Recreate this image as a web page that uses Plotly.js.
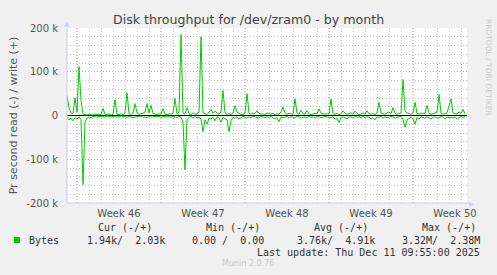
<!DOCTYPE html>
<html>
<head>
<meta charset="utf-8">
<script src="https://cdn.plot.ly/plotly-3.0.1.min.js"></script>
<style>
html,body{margin:0;padding:0;background:#f0f0f0;}
#chart{width:497px;height:275px;}
</style>
</head>
<body>
<div id="chart"></div>
<script>
// Sampling: one value every 4 hours, starting at this time
const startTime = '2025-11-09T04:00:00';
const stepHours = 4;

// write (+) in k bytes/s
const writeK = [
  46,18,6,4,40,8,112,35,3,2,
  1,3,2,1,4,2,3,2,16,3,
  2,4,1,3,36,3,2,4,2,6,
  52,4,3,5,27,6,3,4,5,8,
  27,6,23,5,3,2,4,3,16,3,
  2,4,3,5,39,4,8,185,6,3,
  18,4,2,6,3,4,8,180,6,4,
  2,8,14,5,10,6,3,8,57,6,
  3,4,2,6,23,8,4,2,3,5,
  50,5,3,6,4,11,5,3,4,2,
  6,4,3,5,2,4,3,8,19,6,
  3,5,4,3,38,5,3,12,4,3,
  11,4,2,3,5,4,15,5,4,3,
  4,3,38,4,3,5,2,4,11,5,
  3,4,6,3,10,5,2,4,6,3,
  11,4,3,5,2,6,30,5,4,3,
  6,8,4,18,5,3,4,6,82,10,
  6,4,3,6,30,5,3,6,4,5,
  23,5,3,4,6,8,48,5,3,4,
  6,21,38,6,4,3,8,5,14,4
];

// read (-) in k bytes/s, drawn below zero
const readK = [
  -4,-10,-6,-12,-5,-8,-3,-10,-158,-15,
  -6,-3,-5,-2,-3,-4,-2,-3,-2,-4,
  -1,-2,-3,-2,-3,-4,-2,-1,-3,-2,
  -4,-2,-3,-5,-4,-2,-3,-1,-4,-3,
  -5,-2,-4,-3,-2,-3,-2,-4,-3,-2,
  -1,-3,-4,-2,-3,-5,-2,-4,-15,-124,
  -10,-4,-2,-6,-3,-5,-4,-8,-37,-10,
  -20,-6,-8,-4,-12,-3,-5,-15,-4,-8,
  -10,-37,-12,-4,-6,-3,-8,-5,-2,-4,
  -6,-3,-5,-2,-3,-4,-6,-2,-3,-5,
  -3,-4,-2,-6,-8,-5,-14,-3,-5,-4,
  -2,-6,-3,-4,-5,-2,-3,-6,-4,-3,
  -5,-2,-4,-3,-6,-2,-3,-5,-4,-2,
  -3,-4,-5,-3,-8,-6,-16,-4,-3,-5,
  -8,-4,-3,-6,-2,-4,-3,-5,-2,-6,
  -3,-4,-8,-5,-10,-3,-4,-2,-6,-3,
  -5,-4,-2,-3,-6,-4,-3,-2,-8,-27,
  -10,-6,-4,-8,-20,-5,-8,-3,-4,-6,
  -3,-5,-8,-4,-3,-5,-6,-2,-4,-8,
  -3,-5,-4,-6,-3,-8,-5,-2,-4,-3
];

// week boundaries (Mondays) and week labels (placed mid-week)
const weekStarts = ['2025-11-10','2025-11-17','2025-11-24','2025-12-01','2025-12-08'];
const weekLabels = ['Week 46','Week 47','Week 48','Week 49','Week 50'];

const yTickVals = [-200,-100,0,100,200];
const yTickText = ['-200 k','-100 k','0','100 k','200 k'];

const legendHeaders = ['Cur (-/+)','Min (-/+)','Avg (-/+)','Max (-/+)'];
const legendValues = ['1.94k/  2.03k','0.00 /  0.00','3.76k/  4.91k','3.32M/  2.38M'];
const seriesName = 'Bytes';
const lastUpdate = 'Last update: Thu Dec 11 09:55:00 2025';

const DAY = 86400000;
const t0 = Date.parse(startTime + 'Z');
function iso(ms){ return new Date(ms).toISOString().slice(0,19); }
function timeAt(i){ return iso(t0 + i*stepHours*3600000); }
const xW = writeK.map((_,i)=>timeAt(i));
const xR = readK.map((_,i)=>timeAt(i));
const weekMid = weekStarts.map(d=>iso(Date.parse(d+'T00:00:00Z') + 3.5*DAY));

const green = '#00cc00';
const traces = [
  {x:xR, y:readK, type:'scatter', mode:'lines', line:{color:green, width:1}, hoverinfo:'skip'},
  {x:xW, y:writeK, type:'scatter', mode:'lines', line:{color:green, width:1}, hoverinfo:'skip'}
];

const mono = 'DejaVu Sans Mono, monospace';
const txtCol = '#333';
const headerX = [125,233,341,449];
const valueRight = [167,266,377,482];

function px(x){ return (x-67)/400; }
function py(y){ return (203-y)/175; }
const annotations = [];
annotations.push({text:'Disk throughput for /dev/zram0 - by month', xref:'paper', yref:'paper',
  x:px(248), y:py(19), xanchor:'center', yanchor:'middle', showarrow:false,
  font:{family:'DejaVu Sans', size:12.6, color:'#444'}});
legendHeaders.forEach((h,i)=>annotations.push({text:h, xref:'paper', yref:'paper',
  x:px(headerX[i]), y:py(227), xanchor:'center', yanchor:'middle', showarrow:false,
  font:{family:mono, size:10, color:txtCol}}));
annotations.push({text:seriesName, xref:'paper', yref:'paper', x:px(27), y:py(240),
  xanchor:'left', yanchor:'middle', showarrow:false, font:{family:mono, size:10, color:txtCol}});
legendValues.forEach((v,i)=>annotations.push({text:v.replace(/ /g,'&nbsp;'), xref:'paper', yref:'paper',
  x:px(valueRight[i]), y:py(240), xanchor:'right', yanchor:'middle', showarrow:false,
  font:{family:mono, size:10, color:txtCol}}));
annotations.push({text:lastUpdate.replace(/ /g,'&nbsp;'), xref:'paper', yref:'paper', x:px(482), y:py(252),
  xanchor:'right', yanchor:'middle', showarrow:false, font:{family:mono, size:10, color:txtCol}});
annotations.push({text:'Munin 2.0.76', xref:'paper', yref:'paper', x:px(248), y:py(263),
  xanchor:'center', yanchor:'middle', showarrow:false, font:{family:'DejaVu Sans', size:8, color:'#c8c8c8'}});
annotations.push({text:'RRDTOOL / TOBI OETIKER', xref:'paper', yref:'paper', x:px(489), y:py(67),
  xanchor:'center', yanchor:'middle', textangle:90, showarrow:false, font:{family:'DejaVu Sans', size:7.5, color:'#cccccc'}});
annotations.push({text:'▲', xref:'paper', yref:'paper', x:px(67), y:py(24), xanchor:'center', yanchor:'middle',
  showarrow:false, font:{family:'DejaVu Sans', size:7, color:'#c8d0f0'}});
annotations.push({text:'▶', xref:'paper', yref:'paper', x:px(471), y:py(203), xanchor:'center', yanchor:'middle',
  showarrow:false, font:{family:'DejaVu Sans', size:6, color:'#c8d0f0'}});

const majorGrid = '#e29a9a';
const minorGrid = '#c8c8c8';
const gdash = '1px,2px';
const shapes = weekStarts.map(d=>({type:'line', xref:'x', yref:'paper', x0:d, x1:d, y0:0, y1:1,
  layer:'below', line:{color:majorGrid, width:1, dash:gdash}}));
shapes.push(
  {type:'rect', xref:'paper', yref:'paper', x0:px(14), x1:px(20), y0:py(237), y1:py(243),
   fillcolor:green, line:{width:0}},
  {type:'line', xref:'paper', yref:'paper', x0:0, x1:0, y0:0, y1:py(22), line:{color:'#c8d0f0', width:1}},
  {type:'line', xref:'paper', yref:'paper', x0:0, x1:px(470), y0:0, y1:0, line:{color:'#c8d0f0', width:1}}
);

const layout = {
  width:497, height:275,
  margin:{l:67, r:30, t:28, b:72, pad:0},
  paper_bgcolor:'#f0f0f0', plot_bgcolor:'#ffffff',
  showlegend:false,
  font:{family:'DejaVu Sans', size:10, color:'#555'},
  xaxis:{
    type:'date',
    range:['2025-11-09T04:00:00','2025-12-12T12:00:00'],
    tickmode:'array', tickvals:weekMid, ticktext:weekLabels,
    ticks:'outside', ticklen:1, tickcolor:'rgba(0,0,0,0)',
    showline:false, zeroline:false, showgrid:false,
    tickfont:{family:'DejaVu Sans', size:10, color:'#555'},
    minor:{tick0:'2025-11-10', dtick:DAY, showgrid:true, gridcolor:minorGrid, griddash:gdash, gridwidth:1, ticks:''}
  },
  yaxis:{
    range:[-200,200], tickmode:'array', tickvals:yTickVals, ticktext:yTickText,
    ticks:'outside', ticklen:6, tickcolor:'rgba(0,0,0,0)',
    showline:false,
    showgrid:true, gridcolor:majorGrid, griddash:gdash, gridwidth:1,
    zeroline:true, zerolinecolor:'#000000', zerolinewidth:1.5,
    tickfont:{family:'DejaVu Sans', size:10, color:'#555'},
    minor:{dtick:20, showgrid:true, gridcolor:minorGrid, griddash:gdash, gridwidth:1, ticks:''},
    title:{text:'Pr second read (-) / write (+)', font:{family:'DejaVu Sans', size:11, color:'#555'}, standoff:6}
  },
  annotations:annotations,
  shapes:shapes
};

Plotly.newPlot('chart', traces, layout, {displayModeBar:false, staticPlot:true});
</script>
</body>
</html>
